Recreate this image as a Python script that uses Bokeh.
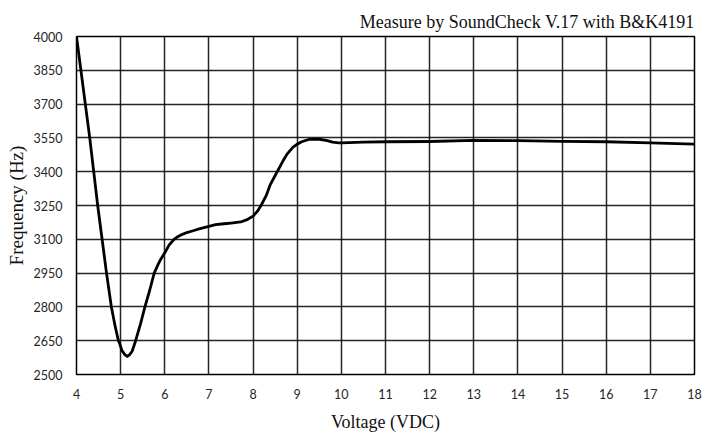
from bokeh.plotting import figure
from bokeh.models import Range1d, FixedTicker
from bokeh.embed import file_html
from bokeh.resources import INLINE

# Data
volts = [4.0, 4.1, 4.2, 4.3, 4.39, 4.48, 4.58, 4.68, 4.79, 4.88, 4.95, 4.98, 5.03, 5.1,
         5.15, 5.2, 5.26, 5.34, 5.45, 5.55, 5.66, 5.76, 5.84, 5.91, 6.0, 6.1, 6.21,
         6.28, 6.4, 6.5, 6.66, 6.8, 7.0, 7.15, 7.34, 7.5, 7.72, 7.85, 8.0, 8.1, 8.18,
         8.3, 8.39, 8.47, 8.56, 8.67, 8.77, 8.9, 9.0, 9.1, 9.26, 9.38, 9.5, 9.68, 9.8,
         9.94, 10.0, 10.5, 11.0, 12.0, 13.0, 14.0, 15.0, 16.0, 17.0, 18.0]
freq = [4000, 3850, 3700, 3550, 3400, 3250, 3100, 2950, 2800, 2710, 2650, 2636, 2606, 2587,
        2580, 2587, 2603, 2650, 2725, 2800, 2875, 2950, 2985, 3012, 3040, 3075, 3100,
        3110, 3122, 3130, 3139, 3147, 3157, 3165, 3169, 3172, 3177, 3186, 3203, 3225, 3250,
        3295, 3343, 3372, 3405, 3445, 3478, 3508, 3522, 3533, 3543, 3545, 3544, 3538, 3531,
        3528, 3528, 3531, 3533, 3534, 3539, 3538, 3535, 3533, 3528, 3522]

x_ticks = list(range(4, 19))
y_ticks = list(range(2500, 4001, 150))

title_text = "Measure by SoundCheck V.17 with B&K4191"
x_label = "Voltage (VDC)"
y_label = "Frequency (Hz)"

p = figure(width=712, height=434, output_backend="svg", toolbar_location=None,
           x_range=Range1d(4, 18), y_range=Range1d(2500, 4000),
           min_border_left=76, min_border_right=18, min_border_top=36, min_border_bottom=60)

p.title.text = title_text
p.title.align = "right"
p.title.standoff = 10
p.title.text_font = "Liberation Serif"
p.title.text_font_size = "18px"
p.title.text_font_style = "normal"
p.title.text_color = "#111111"

p.line(volts, freq, line_color="black", line_width=2.8, line_join="round", line_cap="round")

p.outline_line_color = "black"
p.outline_line_width = 1.5

for g, t in ((p.xgrid, x_ticks), (p.ygrid, y_ticks)):
    g.ticker = FixedTicker(ticks=t)
    g.grid_line_color = "black"
    g.grid_line_width = 1.5
    g.grid_line_alpha = 0.85

for ax, t in ((p.xaxis, x_ticks), (p.yaxis, y_ticks)):
    ax.ticker = FixedTicker(ticks=t)
    ax.axis_line_color = None
    ax.major_tick_line_color = None
    ax.minor_tick_line_color = None
    ax.major_label_text_font = "Lato"
    ax.major_label_text_font_size = "12.5px"
    ax.major_label_text_color = "#262626"
    ax.axis_label_text_font = "Liberation Serif"
    ax.axis_label_text_font_style = "normal"
    ax.axis_label_text_color = "#111111"

p.xaxis.axis_label_text_font_size = "18px"
p.yaxis.axis_label_text_font_size = "19px"
p.xaxis.axis_label = x_label
p.yaxis.axis_label = y_label
p.xaxis.major_label_standoff = 8
p.yaxis.major_label_standoff = 8
p.xaxis.axis_label_standoff = 10
p.yaxis.axis_label_standoff = 4

open("out.html", "w").write(file_html(p, INLINE))
